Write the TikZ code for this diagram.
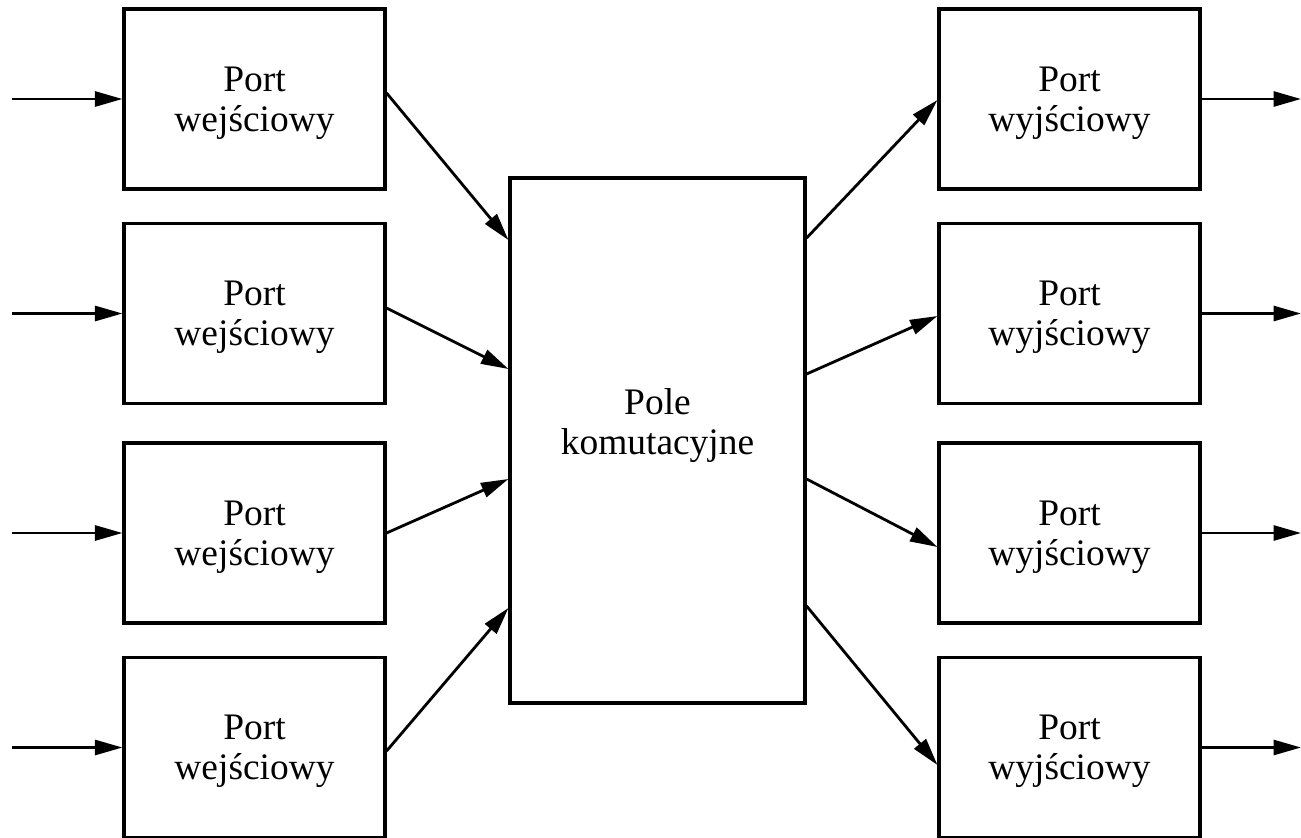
\documentclass[tikz,border=0pt]{standalone}
\usepackage{fontspec}
\setmainfont{Liberation Serif}
\usetikzlibrary{arrows.meta}

\begin{document}
\begin{tikzpicture}[x=0.02cm,y=-0.02cm,
    txt/.style={align=center,inner sep=0pt,font=\fontsize{21.3}{22.8}\selectfont},
    box/.style={draw,line width=1.8pt,inner sep=0pt},
    port/.style={box,minimum width=5.22cm,minimum height=3.6cm,
        label={[txt,yshift=-0.08cm]center:#1}},
    conn/.style={line width=1.6pt,-{Triangle[length=0.55cm,width=0.3cm]}}]
\useasboundingbox (0,0) rectangle (1301,838);

% switching fabric in the middle
\node[box,minimum width=5.9cm,minimum height=10.5cm,
    label={[txt,yshift=0.3cm]center:Pole\\komutacyjne}] (pole) at (657.5,440.5) {};

% four input and four output ports
\foreach \i/\y/\ls/\lp/\rp/\rs in {1/99/0.12/4.01/4.05/-0.02,
                                   2/313.5/0.11/1.43/1.33/-0.05,
                                   3/533/0/-0.77/-0.77/-0.28,
                                   4/747.5/-0.07/-3.35/-3.31/-0.35}
{
    \node[port={Port\\wejściowy}] (in\i) at (254.5,\y) {};
    \node[port={Port\\wyjściowy}] (out\i) at (1069.5,\y) {};
    \coordinate (src\i) at (12,\y);
    \coordinate (dst\i) at (1301,\y);
    \draw[conn] (src\i) -- (in\i);
    \draw[conn] (out\i) -- (dst\i);
    \draw[conn] ([yshift=\ls cm]in\i.east) -- ([yshift=\lp cm]pole.west);
    \draw[conn] ([yshift=\rp cm]pole.east) -- ([yshift=\rs cm]out\i.west);
}
\end{tikzpicture}
\end{document}
